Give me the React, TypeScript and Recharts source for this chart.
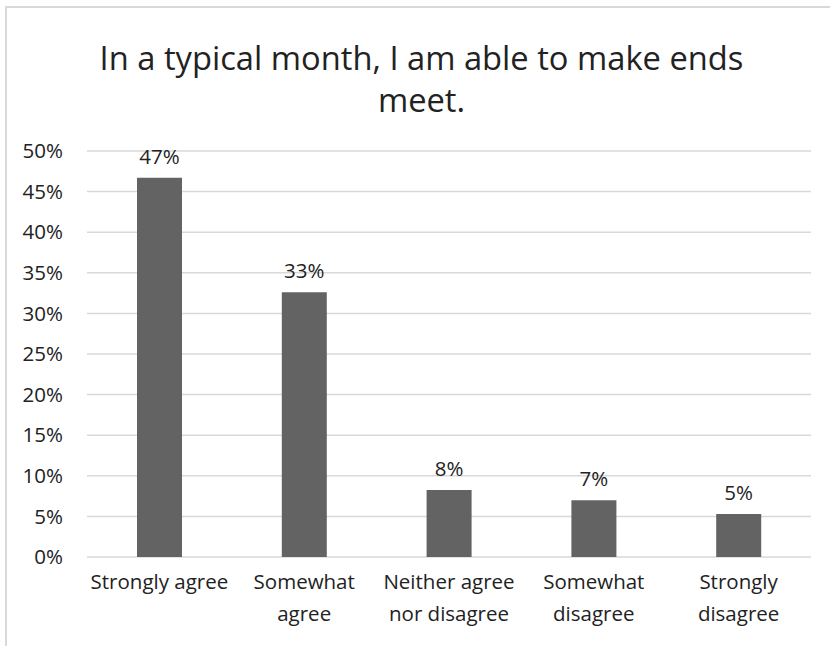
import React from "react";
import { BarChart, Bar, XAxis, YAxis, CartesianGrid, LabelList } from "recharts";

const categories = [
  "Strongly agree",
  "Somewhat\nagree",
  "Neither agree\nnor disagree",
  "Somewhat\ndisagree",
  "Strongly\ndisagree",
];
const values = [46.7, 32.6, 8.25, 7.0, 5.3];
const yTicks = [0, 5, 10, 15, 20, 25, 30, 35, 40, 45, 50];
const titleLines = ["In a typical month, I am able to make ends", "meet."];

const data = categories.map((c, i) => ({ name: c, value: values[i] }));

const FONT = "'Open Sans', sans-serif";
const TEXT = "#222222";

const XTick = (props: any) => {
  const { x, y, payload } = props;
  const lines = String(payload.value).split("\n");
  return (
    <text x={x} y={y} textAnchor="middle" fill={TEXT} fontFamily={FONT} fontSize={20.5}>
      {lines.map((l, i) => (
        <tspan key={i} x={x} y={y + 32 + i * 32}>
          {l}
        </tspan>
      ))}
    </text>
  );
};

export default function App() {
  return (
    <div style={{ position: "absolute", left: 0, top: 0, width: 830, height: 646, overflow: "hidden", background: "#fff" }}>
      <div
        style={{
          position: "absolute",
          left: 5,
          top: 6,
          width: 900,
          height: 700,
          border: "2px solid #d9d9d9",
          boxSizing: "border-box",
        }}
      />
      <div
        style={{
          position: "absolute",
          left: 0,
          width: 843,
          top: 37,
          textAlign: "center",
          fontFamily: FONT,
          fontSize: 32.7,
          lineHeight: "42px",
          color: TEXT,
        }}
      >
        {titleLines.map((t, i) => (
          <div key={i}>{t}</div>
        ))}
      </div>
      <div style={{ position: "absolute", left: 0, top: 0 }}>
        <BarChart
          width={830}
          height={646}
          data={data}
          margin={{ top: 151, right: 19, bottom: 29, left: 0 }}
          barCategoryGap={0}
        >
          <CartesianGrid vertical={false} stroke="#d9d9d9" strokeWidth={1.5} />
          <XAxis
            dataKey="name"
            axisLine={false}
            tickLine={false}
            tickSize={0}
            tickMargin={0}
            height={60}
            interval={0}
            tick={<XTick />}
          />
          <YAxis
            width={87}
            domain={[0, 50]}
            ticks={yTicks}
            axisLine={false}
            tickLine={false}
            tickSize={0}
            tickMargin={24}
            tickFormatter={(v: number) => `${v}%`}
            tick={{ fill: TEXT, fontFamily: FONT, fontSize: 20.5 }}
            interval={0}
          />
          <Bar dataKey="value" fill="#636363" barSize={45} isAnimationActive={false}>
            <LabelList
              dataKey="value"
              position="top"
              offset={14}
              formatter={(v: number) => `${Math.round(v)}%`}
              style={{ fill: TEXT, fontFamily: FONT, fontSize: 20.5 }}
            />
          </Bar>
        </BarChart>
      </div>
    </div>
  );
}
